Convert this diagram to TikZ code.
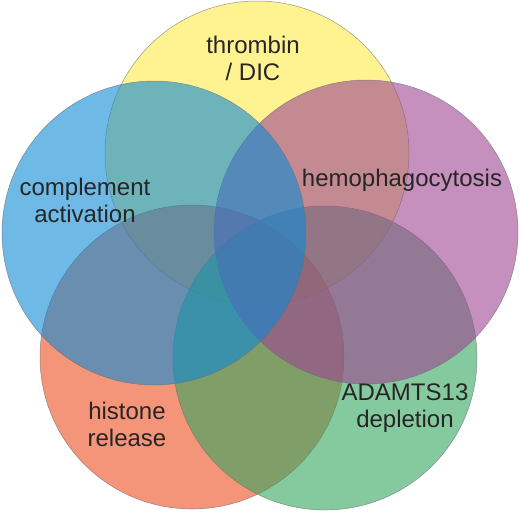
\documentclass[tikz,border=0pt]{standalone}
\usepackage{fontspec}
\setmainfont{Liberation Sans}
\definecolor{vyellow}{RGB}{255,235,72}
\definecolor{vorange}{RGB}{237,78,33}
\definecolor{vgreen}{RGB}{52,165,93}
\definecolor{vpurple}{RGB}{158,68,147}
\definecolor{vblue}{RGB}{13,138,213}
\definecolor{rim}{RGB}{110,110,110}
\begin{document}
\begin{tikzpicture}[x=1pt, y=-1pt,
	venn/.style={circle, minimum size=304pt, inner sep=0pt, fill opacity=0.6, draw=rim, draw opacity=0.7, line width=0.5pt},
	lbl/.style={align=center, text=black!85, font=\fontsize{24}{27}\selectfont}]
	\useasboundingbox (0,0) rectangle (520,512);
	\node[venn, fill=vyellow] (thr) at (257,153) {};
	\node[venn, fill=vorange] (his) at (192,357) {};
	\node[venn, fill=vgreen] (ada) at (325,358) {};
	\node[venn, fill=vpurple] (hem) at (366,232) {};
	\node[venn, fill=vblue] (com) at (154,233) {};
	\node[lbl] (thrlbl) at (253,58) {thrombin\\/ DIC};
	\node[lbl] (comlbl) at (85,200) {complement\\activation};
	\node[lbl] (hemlbl) at (402,180) {hemophagocytosis};
	\node[lbl] (hislbl) at (127,424) {histone\\release};
	\node[lbl] (adalbl) at (405,408) {ADAMTS13\\depletion};
\end{tikzpicture}
\end{document}
